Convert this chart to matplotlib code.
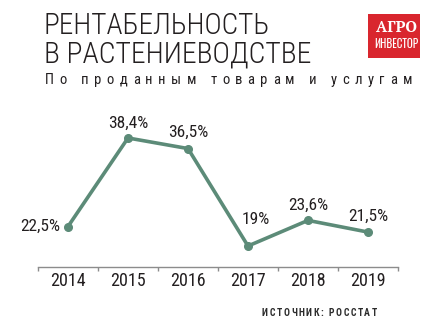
import matplotlib
matplotlib.use("Agg")
import matplotlib.pyplot as plt
from matplotlib.patches import Rectangle

years = ["2014", "2015", "2016", "2017", "2018", "2019"]
values = [22.5, 38.4, 36.5, 19.0, 23.6, 21.5]
value_labels = ["22,5%", "38,4%", "36,5%", "19%", "23,6%", "21,5%"]

COND = ["Roboto Condensed", "DejaVu Sans"]
TALL = ["Oswald", "Roboto Condensed", "DejaVu Sans"]
SERIF = ["PT Serif", "DejaVu Serif"]
TEXT = "#231f20"
LINE = "#5c8b78"

W, H = 438, 334
fig = plt.figure(figsize=(W / 100, H / 100), dpi=100)
fig.patch.set_facecolor("white")
renderer = fig.canvas.get_renderer()


def px(x, y):
    return x / W, 1 - y / H


def fitted(x0, x1, y, s, size, **kw):
    """Text left-aligned at x0, resized so that it ends at x1."""
    t = fig.text(*px(x0, y), s, fontsize=size, va="center", ha="left", **kw)
    w = t.get_window_extent(renderer=renderer).width
    t.set_fontsize(size * (x1 - x0) / w)
    return t


def tracked(x0, x1, y, s, size, **kw):
    """Letter-spaced text running from x0 to x1."""
    items = []
    natural = 0.0
    for ch in s:
        t = fig.text(*px(x0, y), ch, fontsize=size, va="center", ha="left", **kw)
        w = t.get_window_extent(renderer=renderer).width if ch != " " else size * 0.3
        items.append((t, w))
        natural += w
    gap = (x1 - x0 - natural) / (len(s) - 1)
    cx = x0
    for t, w in items:
        t.set_position(px(cx, y))
        cx += w + gap


# Heading
fitted(44, 270, 26, "РЕНТАБЕЛЬНОСТЬ", 21, family=COND, weight="light", color=TEXT)
fitted(44, 311, 55, "В РАСТЕНИЕВОДСТВЕ", 21, family=COND, weight="light", color=TEXT)
tracked(45, 412, 80, "По проданным товарам и услугам", 10.5, family=COND, color=TEXT)

# Logo
fig.patches.append(Rectangle(px(368, 58), 52 / W, 44 / H, transform=fig.transFigure,
                             facecolor="#d9262e", edgecolor="none"))
fitted(376, 417, 27, "АГРО", 13, family=SERIF, weight="bold", color="white")
fitted(374, 418, 43.5, "ИНВЕСТОР", 13, family=TALL, color="white")

# Line chart
ax = fig.add_axes([38 / W, 1 - 266.5 / H, 360 / W, 166.5 / H])
x = list(range(len(years)))
ax.plot(x, values, color=LINE, lw=2.6, marker="o", ms=5.5,
        solid_joinstyle="round", solid_capstyle="round", clip_on=False)
ax.set_xlim(-0.5, 5.5)
ax.set_ylim(15.32, 45.22)
ax.set_yticks([])
for s in ("top", "left", "right"):
    ax.spines[s].set_visible(False)
ax.spines["bottom"].set_color("#8c8c8c")
ax.spines["bottom"].set_linewidth(1.0)
ax.set_xticks([i - 0.5 for i in range(len(years) + 1)])
ax.set_xticklabels([])
ax.tick_params(axis="x", length=3, color="#8c8c8c", width=1.0)
ax.set_xticks(x, minor=True)
ax.set_xticklabels(years, minor=True, fontsize=13, family=COND, color=TEXT)
ax.tick_params(axis="x", which="minor", length=0, pad=4)

offsets = [(-8, 0, "right", "center"), (0, 7, "center", "bottom"), (0, 9, "center", "bottom"),
           (8, 19, "center", "bottom"), (0, 8, "center", "bottom"), (0, 8, "center", "bottom")]
for xi, v, lab, (dx, dy, ha, va) in zip(x, values, value_labels, offsets):
    ax.annotate(lab, (xi, v), xytext=(dx, dy), textcoords="offset pixels", ha=ha, va=va,
                fontsize=12.5, family=COND, color=TEXT)

# Source line
tracked(262, 377, 313, "ИСТОЧНИК: РОССТАТ", 7, family=COND, weight="bold", color="#2b2b2b")

fig.savefig("out.png", dpi=100)
